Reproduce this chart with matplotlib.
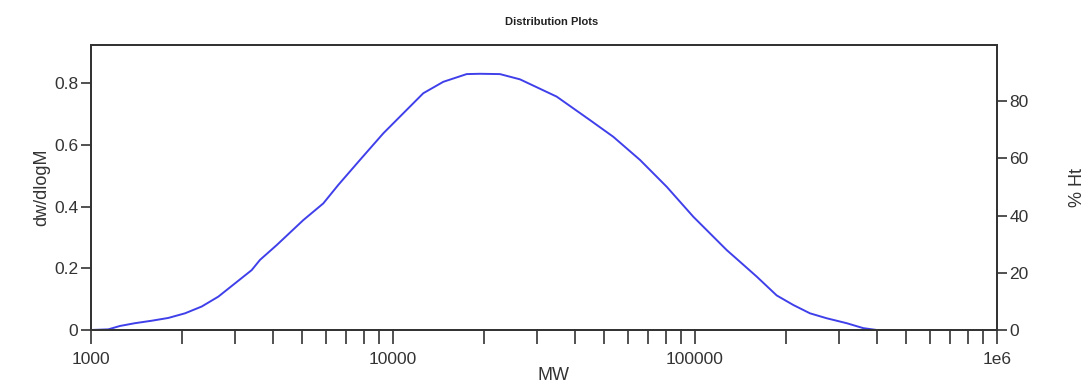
import numpy as np
import matplotlib
matplotlib.use("Agg")
import matplotlib.pyplot as plt
from matplotlib.ticker import LogLocator, FixedLocator, NullFormatter

plt.rcParams['font.family'] = ['Liberation Sans', 'DejaVu Sans']

# curve: molecular weight vs dw/dlogM
mw = [1000, 1141, 1247, 1398, 1589, 1803, 2048, 2326, 2640, 2998, 3405, 3627,
      4120, 5047, 5877, 6591, 7776, 9287, 10817, 12600, 14676, 17539, 19414,
      22608, 26336, 34846, 44905, 53630, 65750, 80610, 98720, 127350, 140930,
      160100, 186460, 211640, 240330, 273010, 317950, 360800, 399600, 459500]
dwdlogm = [0.0, 0.002, 0.013, 0.022, 0.030, 0.039, 0.054, 0.076, 0.108, 0.151,
           0.194, 0.227, 0.275, 0.356, 0.410, 0.470, 0.551, 0.637, 0.702, 0.767,
           0.804, 0.829, 0.830, 0.829, 0.812, 0.756, 0.680, 0.626, 0.551, 0.464,
           0.367, 0.259, 0.221, 0.173, 0.112, 0.081, 0.054, 0.038, 0.022, 0.006,
           0.0, 0.0]

x_major = [1000, 10000, 100000, 1000000]
x_labels = ["1000", "10000", "100000", "1e6"]
left_ticks = [0, 0.2, 0.4, 0.6, 0.8]
left_labels = ["0", "0.2", "0.4", "0.6", "0.8"]
right_ticks = [0, 20, 40, 60, 80]

grey = "#333333"

fig = plt.figure(figsize=(10.91, 3.92), dpi=100)
ax = fig.add_axes([0.0834, 0.1582, 0.8304, 0.7268])

ax.plot(mw, dwdlogm, color="#4040ea", lw=1.4)

ax.set_xscale("log")
ax.set_xlim(1000, 1e6)
ax.set_ylim(0, 0.923)
ax.xaxis.set_major_locator(FixedLocator(x_major))
ax.set_xticklabels(x_labels)
ax.xaxis.set_minor_locator(LogLocator(base=10, subs=np.arange(2, 10)))
ax.xaxis.set_minor_formatter(NullFormatter())
ax.set_yticks(left_ticks)
ax.set_yticklabels(left_labels)

ax.tick_params(axis="x", which="both", direction="out", length=10, width=1.2,
               colors=grey, labelsize=12.5, pad=6)
ax.tick_params(axis="y", direction="out", length=7, width=1.2, colors=grey,
               labelsize=12.5, pad=2)
for s in ax.spines.values():
    s.set_color(grey)
    s.set_linewidth(1.3)

ax2 = ax.twinx()
ax2.set_ylim(0, 99.6)
ax2.set_yticks(right_ticks)
ax2.tick_params(axis="y", direction="out", length=7, width=1.2, colors=grey,
                labelsize=12.5, pad=2)
for s in ax2.spines.values():
    s.set_color(grey)
    s.set_linewidth(1.3)

ax.set_xlabel("MW", fontsize=13, color=grey)
ax.xaxis.set_label_coords(0.51, -0.13)
ax.set_ylabel("dw/dlogM", fontsize=13, color=grey)
ax.yaxis.set_label_coords(-0.045, 0.5)
ax2.set_ylabel("% Ht", fontsize=13, color=grey)
ax2.yaxis.set_label_coords(1.08, 0.5)
fig.text(0.506, 0.945, "Distribution Plots", ha="center", va="center",
         fontsize=8, fontweight="bold", color="#222222")

fig.savefig("out.png", dpi=100)
